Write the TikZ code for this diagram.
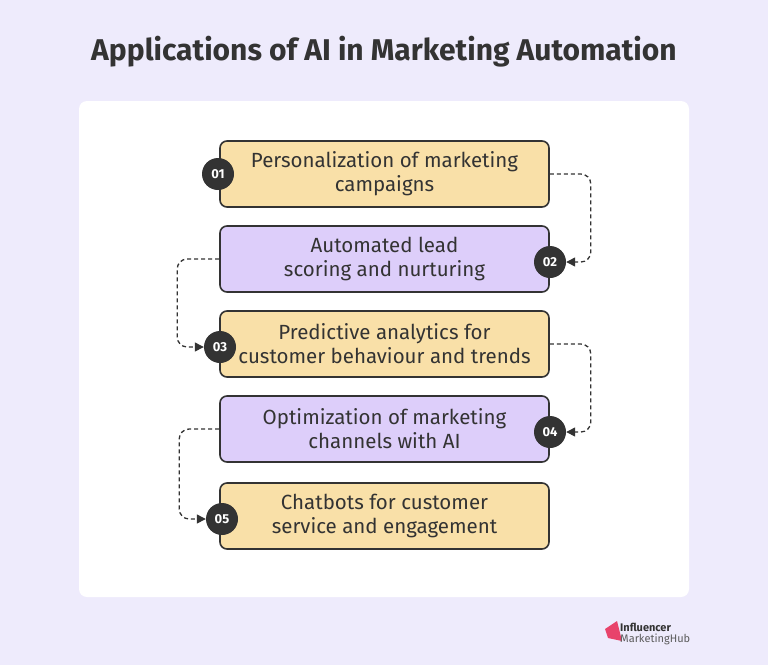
\documentclass[tikz,border=0pt]{standalone}
\usepackage{fontspec}
\setmainfont{Fira Sans}
\usetikzlibrary{arrows.meta}
\definecolor{bg}{HTML}{EEEBFC}
\definecolor{org}{HTML}{F9E0A8}
\definecolor{pur}{HTML}{DDCEFA}
\definecolor{dk}{HTML}{333333}
\definecolor{pink}{HTML}{E8436B}
\begin{document}
\begin{tikzpicture}[x=1pt,y=-1pt,
  card/.style={draw=dk,line width=1.6pt,rounded corners=7pt,minimum width=329pt,minimum height=66pt,align=center,font=\fontsize{20.5}{24}\selectfont,text=dk},
  num/.style={circle,fill=dk,minimum size=32pt,inner sep=0pt,text=white,font=\bfseries\fontsize{13}{13}\selectfont},
  conn/.style={dk,dash pattern=on 4pt off 3pt,line width=1.3pt,rounded corners=10pt,-{Triangle[length=9pt,width=9pt]}}]
\fill[bg] (0,0) rectangle (768,665);
\useasboundingbox (0,0) rectangle (768,665);
\fill[white,rounded corners=8pt] (79,101) rectangle (689,597);
\node[font=\bfseries\fontsize{30}{30}\selectfont,text=dk] (title) at (384,52) {Applications of AI in Marketing Automation};
\node[card,fill=org] (b1) at (384.5,174) {Personalization of marketing\\campaigns};
\node[card,fill=pur] (b2) at (384.5,259) {Automated lead\\scoring and nurturing};
\node[card,fill=org] (b3) at (384.5,344) {Predictive analytics for\\customer behaviour and trends};
\node[card,fill=pur] (b4) at (384.5,429) {Optimization of marketing\\channels with AI};
\node[card,fill=org] (b5) at (384.5,516) {Chatbots for customer\\service and engagement};
\node[num] (n1) at (218,174) {01};
\node[num] (n2) at (550,262) {02};
\node[num] (n3) at (220,347) {03};
\node[num] (n4) at (550,432) {04};
\node[num] (n5) at (222,519) {05};
\draw[conn] (b1.east) -- ++(41,0) |- (n2.east);
\draw[conn] (b2.west) -- ++(-42,0) |- (n3.west);
\draw[conn] (b3.east) -- ++(41,0) |- (n4.east);
\draw[conn] (b4.west) -- ++(-40,0) |- (n5.west);
\fill[pink] (605,629) -- (617,621) -- (622,641) -- (608,638) -- cycle;
\node[anchor=west,font=\bfseries\fontsize{11}{11}\selectfont,text=dk,inner sep=0pt] (l1) at (620,627) {Influencer};
\node[anchor=west,font=\fontsize{11}{11}\selectfont,text=dk!80,inner sep=0pt] (l2) at (620,639) {MarketingHub};
\end{tikzpicture}
\end{document}
